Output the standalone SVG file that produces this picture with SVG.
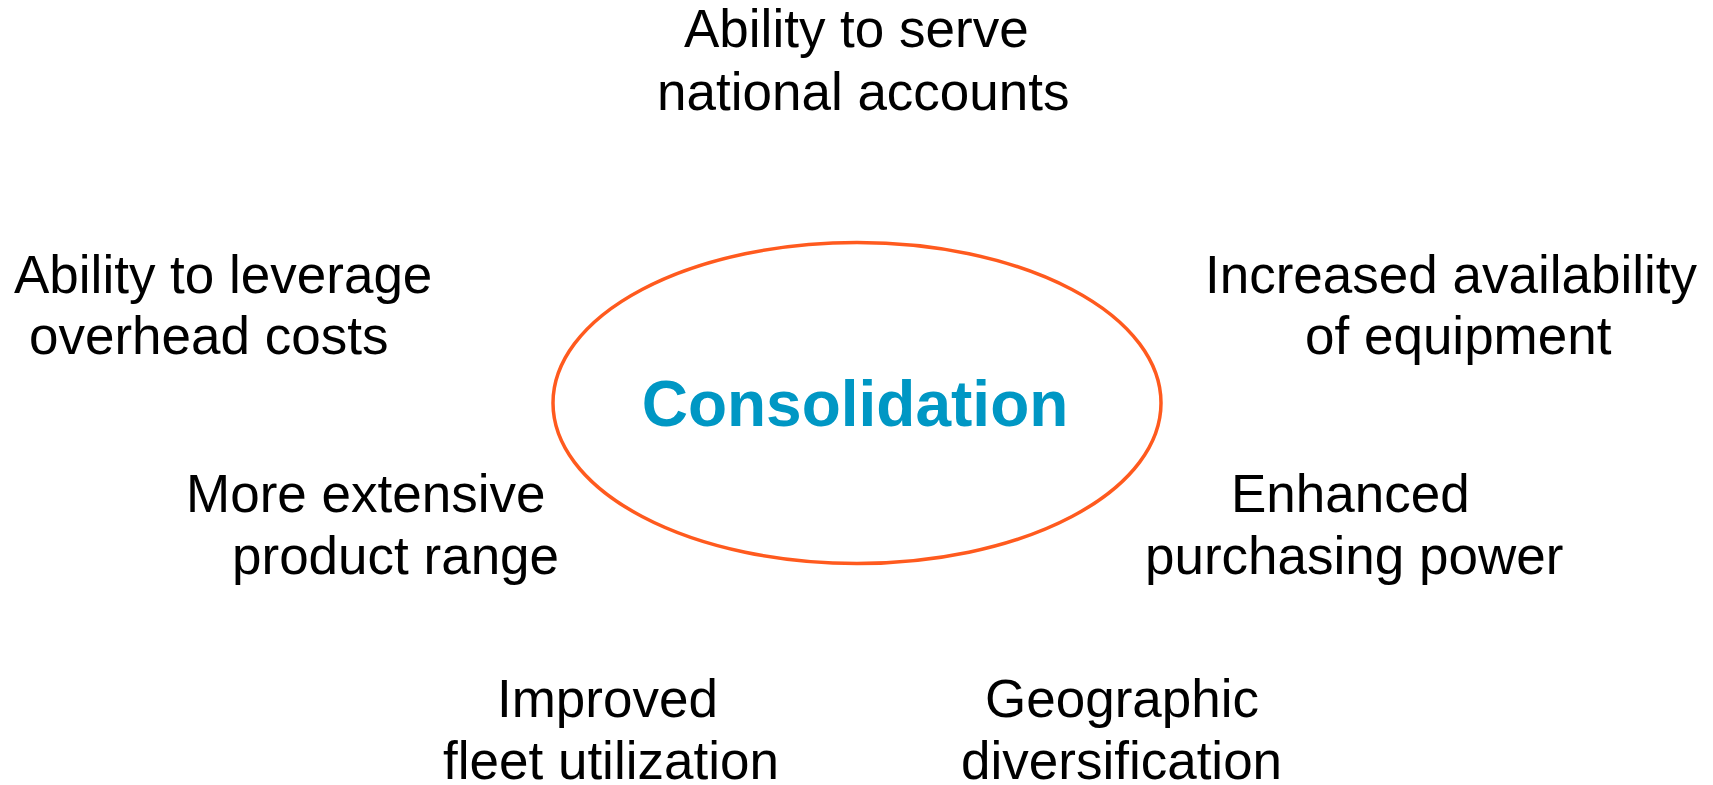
<svg xmlns="http://www.w3.org/2000/svg" width="1713" height="785" viewBox="0 0 1713 785">
<style>
.lbl{font-family:"Liberation Sans",Arial,sans-serif;font-size:53px;fill:#000}
.core{font-family:"Liberation Sans",Arial,sans-serif;font-size:64px;font-weight:bold;fill:#0097C4}
</style>
<rect width="1713" height="785" fill="#fff"/>
<g id="center">
<ellipse cx="857" cy="403" rx="304" ry="160.5" fill="none" stroke="#FF5A1E" stroke-width="3.5"/>
<text class="core" x="855" y="426" text-anchor="middle">Consolidation</text>
</g>
<g id="n-top">
<text class="lbl" x="684" y="47">Ability to serve</text>
<text class="lbl" x="657" y="110">national accounts</text>
</g>
<g id="n-left-top">
<text class="lbl" x="14" y="293">Ability to leverage</text>
<text class="lbl" x="29" y="354">overhead costs</text>
</g>
<g id="n-right-top">
<text class="lbl" x="1205" y="293">Increased availability</text>
<text class="lbl" x="1305" y="354">of equipment</text>
</g>
<g id="n-left-mid">
<text class="lbl" x="186" y="512">More extensive</text>
<text class="lbl" x="232" y="574">product range</text>
</g>
<g id="n-right-mid">
<text class="lbl" x="1231" y="512">Enhanced</text>
<text class="lbl" x="1145" y="574">purchasing power</text>
</g>
<g id="n-bottom-left">
<text class="lbl" x="497" y="717">Improved</text>
<text class="lbl" x="443" y="779">fleet utilization</text>
</g>
<g id="n-bottom-right">
<text class="lbl" x="985" y="717">Geographic</text>
<text class="lbl" x="961" y="779">diversification</text>
</g>
<g id="connectors"/>
</svg>
